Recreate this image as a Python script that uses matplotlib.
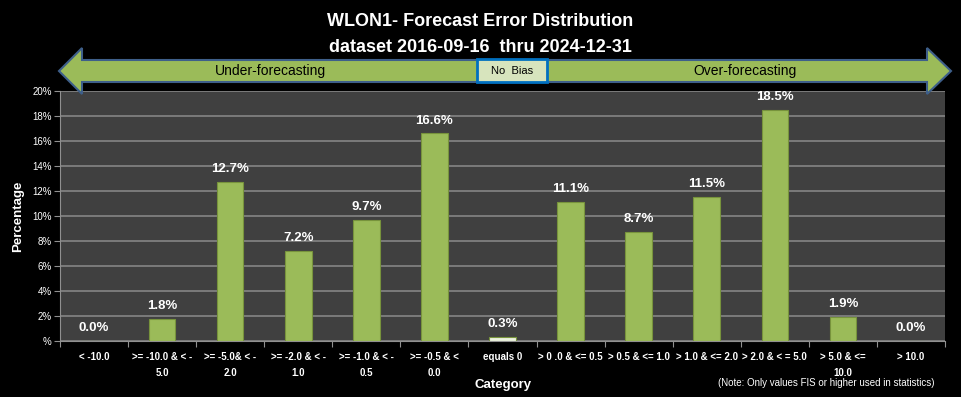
import matplotlib
matplotlib.use("Agg")
import matplotlib.pyplot as plt
import numpy as np
from matplotlib.patches import Polygon, Rectangle

categories = ["< -10.0", ">= -10.0 & < -\n5.0", ">= -5.0& < -\n2.0", ">= -2.0 & < -\n1.0",
              ">= -1.0 & < -\n0.5", ">= -0.5 & <\n0.0", "equals 0", "> 0 .0 & <= 0.5",
              "> 0.5 & <= 1.0", "> 1.0 & <= 2.0", "> 2.0 & < = 5.0", "> 5.0 & <=\n10.0", "> 10.0"]
percent = [0.0, 1.8, 12.7, 7.2, 9.7, 16.6, 0.3, 11.1, 8.7, 11.5, 18.5, 1.9, 0.0]
yticks = [0, 2, 4, 6, 8, 10, 12, 14, 16, 18, 20]
ytick_labels = ["%"] + [f"{v}%" for v in yticks[1:]]

plt.rcParams["font.family"] = ["Liberation Sans Narrow", "Liberation Sans", "DejaVu Sans"]

W, H = 961, 397
fig = plt.figure(figsize=(W / 100, H / 100), dpi=100, facecolor="black")


def fx(px):
    return px / W


def fy(py):
    return 1 - py / H


ax = fig.add_axes([fx(60), fy(341), fx(945) - fx(60), fy(91) - fy(341)])
ax.set_facecolor("#404040")
x = np.arange(len(categories))
colors = ["#9BBB59"] * len(categories)
colors[6] = "#EBF1DE"
ax.bar(x, percent, width=0.39, color=colors, edgecolor="#77933C", linewidth=0.8, zorder=3)
for xi, v in zip(x, percent):
    ax.annotate(f"{v:.1f}%", (xi, v), xytext=(0, 5), textcoords="offset points",
                ha="center", va="bottom", color="white", fontsize=9.5, fontweight="bold")
ax.set_xlim(-0.5, len(categories) - 0.5)
ax.set_ylim(0, 20)
ax.set_yticks(yticks)
ax.set_yticklabels(ytick_labels, color="white", fontsize=7)
ax.yaxis.grid(True, color="#858585", linewidth=1.2, zorder=0)
ax.set_xticks(np.arange(len(categories) + 1) - 0.5, minor=False)
ax.set_xticklabels([])
ax.set_xticks(x, minor=True)
ax.set_xticklabels(categories, minor=True, color="white", fontsize=7, fontweight="bold",
                   linespacing=1.7)
ax.tick_params(axis="x", which="major", length=4, color="#909090")
ax.tick_params(axis="x", which="minor", length=0, pad=8)
ax.tick_params(axis="y", length=4, color="#909090", pad=2)
for s in ["top", "right"]:
    ax.spines[s].set_visible(False)
ax.spines["left"].set_color("#909090")
ax.spines["bottom"].set_color("#909090")
ax.set_ylabel("Percentage", color="white", fontsize=9.5, fontweight="bold", labelpad=6)

fig.text(fx(503), fy(385), "Category", color="white", fontsize=9.5, fontweight="bold", ha="center", va="center")
fig.text(fx(935), fy(383), "(Note: Only values FIS or higher used in statistics)", color="white",
         fontsize=7, ha="right", va="center")

fig.text(0.5, fy(22), "WLON1- Forecast Error Distribution", color="white", fontsize=13,
         fontweight="bold", ha="center", va="center")
fig.text(0.5, fy(47), "dataset 2016-09-16  thru 2024-12-31", color="white", fontsize=13,
         fontweight="bold", ha="center", va="center")

# double arrow banner
arrow_px = [(59, 71), (82, 48), (82, 60), (927, 60), (927, 48), (951, 71),
            (927, 94), (927, 82), (82, 82), (82, 94)]
fig.patches.append(Polygon([(fx(a), fy(b)) for a, b in arrow_px], closed=True,
                           transform=fig.transFigure, facecolor="#9BBB59",
                           edgecolor="#3E5F8A", linewidth=1.5, zorder=5))
fig.patches.append(Rectangle((fx(477), fy(82)), fx(547) - fx(477), fy(59) - fy(82),
                             transform=fig.transFigure, facecolor="#D7E4BD",
                             edgecolor="#0070C0", linewidth=2, zorder=6))
fig.text(fx(512), fy(71), "No  Bias", color="black", fontsize=8, ha="center", va="center", zorder=7)
fig.text(fx(270), fy(71), "Under-forecasting", color="black", fontsize=10, ha="center", va="center", zorder=7)
fig.text(fx(745), fy(71), "Over-forecasting", color="black", fontsize=10, ha="center", va="center", zorder=7)

fig.savefig("out.png", dpi=100, facecolor="black")
